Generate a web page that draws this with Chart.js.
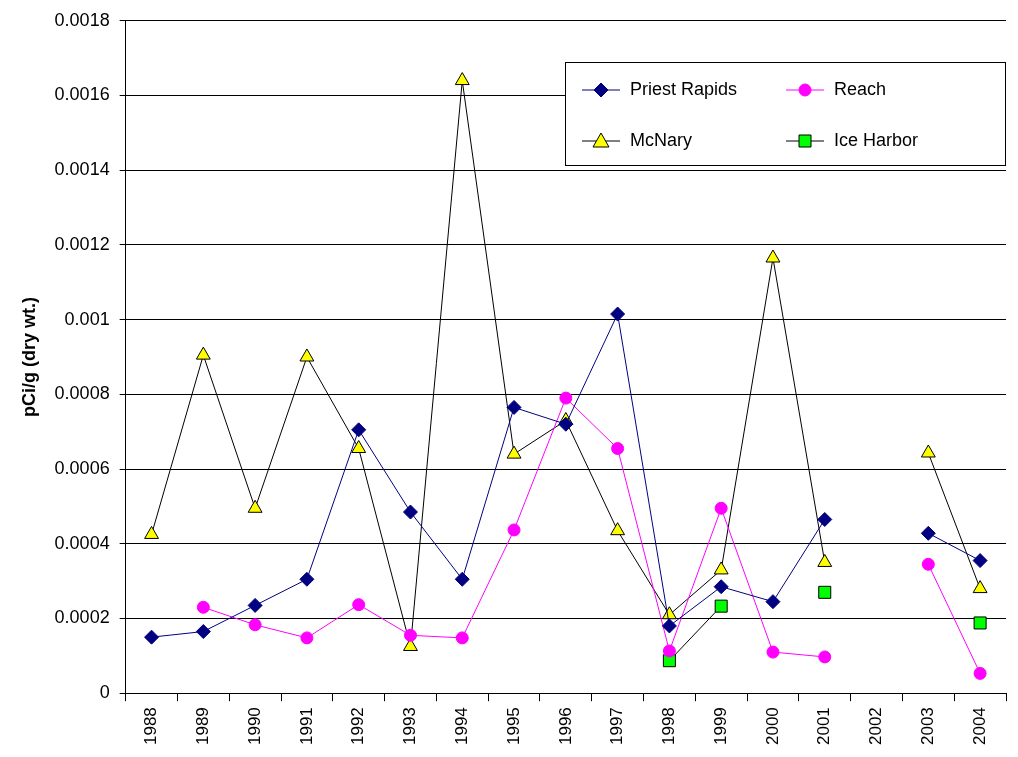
<!DOCTYPE html>
<html><head><meta charset="utf-8">
<script src="https://cdn.jsdelivr.net/npm/chart.js@4/dist/chart.umd.min.js"></script>
<style>html,body{margin:0;background:#fff}#w{width:1018px;height:757px}</style>
</head><body><div id="w"><canvas id="c"></canvas></div>
<script>
const years = ['1988','1989','1990','1991','1992','1993','1994','1995','1996','1997','1998','1999','2000','2001','2002','2003','2004'];
const priestRapids = [0.00015,0.000165,0.000235,0.000305,0.000705,0.000485,0.000305,0.000765,0.00072,0.001015,0.00018,0.000285,0.000245,0.000465,null,0.000428,0.000355];
const reach = [null,0.00023,0.000183,0.000148,0.000237,0.000155,0.000148,0.000437,0.00079,0.000655,0.000113,0.000495,0.00011,0.000097,null,0.000345,0.000053];
const mcNary = [0.000425,0.000905,0.000495,0.0009,0.000655,0.000125,0.00164,0.00064,0.00073,0.000435,0.00021,0.00033,0.001165,0.00035,null,0.000643,0.00028];
const iceHarbor = [null,null,null,null,null,null,null,null,null,null,0.000087,0.000233,null,0.00027,null,null,0.000188];

const legendPlugin = {
  id:'boxLegend',
  afterDraw(chart){
    const ctx=chart.ctx, x=565, y=62, w=440, h=103;
    ctx.save();
    ctx.fillStyle='#fff';ctx.fillRect(x,y,w,h);
    ctx.strokeStyle='#000';ctx.lineWidth=1;ctx.strokeRect(x+0.5,y+0.5,w,h);
    const items=[[0,582,90],[1,786,90],[2,582,141],[3,786,141]];
    ctx.font='18px Arial, "Liberation Sans"';ctx.textBaseline='middle';
    items.forEach(([i,lx,ly])=>{
      const ds=chart.data.datasets[i];
      ctx.strokeStyle=ds.borderColor;ctx.lineWidth=1;
      ctx.beginPath();ctx.moveTo(lx,ly);ctx.lineTo(lx+38,ly);ctx.stroke();
      const cx=lx+19;ctx.fillStyle=ds.pointBackgroundColor;ctx.strokeStyle=ds.pointBorderColor;
      ctx.beginPath();
      if(ds.pointStyle==='rectRot'){ctx.moveTo(cx,ly-7);ctx.lineTo(cx+7,ly);ctx.lineTo(cx,ly+7);ctx.lineTo(cx-7,ly);ctx.closePath();}
      else if(ds.pointStyle==='circle'){ctx.arc(cx,ly,6,0,Math.PI*2);}
      else if(ds.pointStyle==='triangle'){ctx.moveTo(cx,ly-8);ctx.lineTo(cx+8,ly+6);ctx.lineTo(cx-8,ly+6);ctx.closePath();}
      else {ctx.rect(cx-6,ly-6,12,12);}
      ctx.fill();ctx.stroke();
      ctx.fillStyle='#000';ctx.fillText(ds.label,lx+48,ly);
    });
    ctx.restore();
  }
};

new Chart(document.getElementById('c'),{
  type:'line',
  data:{labels:years,datasets:[
    {label:'Priest Rapids',data:priestRapids,borderColor:'#000080',backgroundColor:'#000080',pointBackgroundColor:'#000080',pointBorderColor:'#000080',pointStyle:'rectRot',pointRadius:7,borderWidth:1},
    {label:'Reach',data:reach,borderColor:'#ff00ff',backgroundColor:'#ff00ff',pointBackgroundColor:'#ff00ff',pointBorderColor:'#ff00ff',pointStyle:'circle',pointRadius:6,borderWidth:1},
    {label:'McNary',data:mcNary,borderColor:'#000',backgroundColor:'#ffff00',pointBackgroundColor:'#ffff00',pointBorderColor:'#000',pointStyle:'triangle',pointRadius:8,borderWidth:1},
    {label:'Ice Harbor',data:iceHarbor,borderColor:'#000',backgroundColor:'#00ff00',pointBackgroundColor:'#00ff00',pointBorderColor:'#000',pointStyle:'rect',pointRadius:8.5,borderWidth:1}
  ]},
  options:{
    responsive:true,maintainAspectRatio:false,animation:false,spanGaps:false,
    layout:{padding:{top:16,right:12,left:15,bottom:6}},
    plugins:{legend:{display:false},tooltip:{enabled:false}},
    scales:{
      x:{offset:true,grid:{offset:true,drawOnChartArea:false,color:'#000',tickLength:8},border:{color:'#000'},
         ticks:{color:'#000',padding:6,font:{size:17,family:'Arial, "Liberation Sans"'},maxRotation:90,minRotation:90,autoSkip:false}},
      y:{min:0,max:0.0018,grid:{color:'#000',tickLength:6},border:{color:'#000'},
         ticks:{stepSize:0.0002,padding:10,color:'#000',font:{size:18,family:'Arial, "Liberation Sans"'},
           callback:v=>{if(Math.abs(v)<1e-12)return '0';return v.toFixed(4).replace(/0+$/,'');}},
         title:{display:true,text:'pCi/g (dry wt.)',color:'#000',font:{size:18,weight:'bold',family:'Arial, "Liberation Sans"'}}}
    }
  },
  plugins:[legendPlugin]
});
</script></body></html>
